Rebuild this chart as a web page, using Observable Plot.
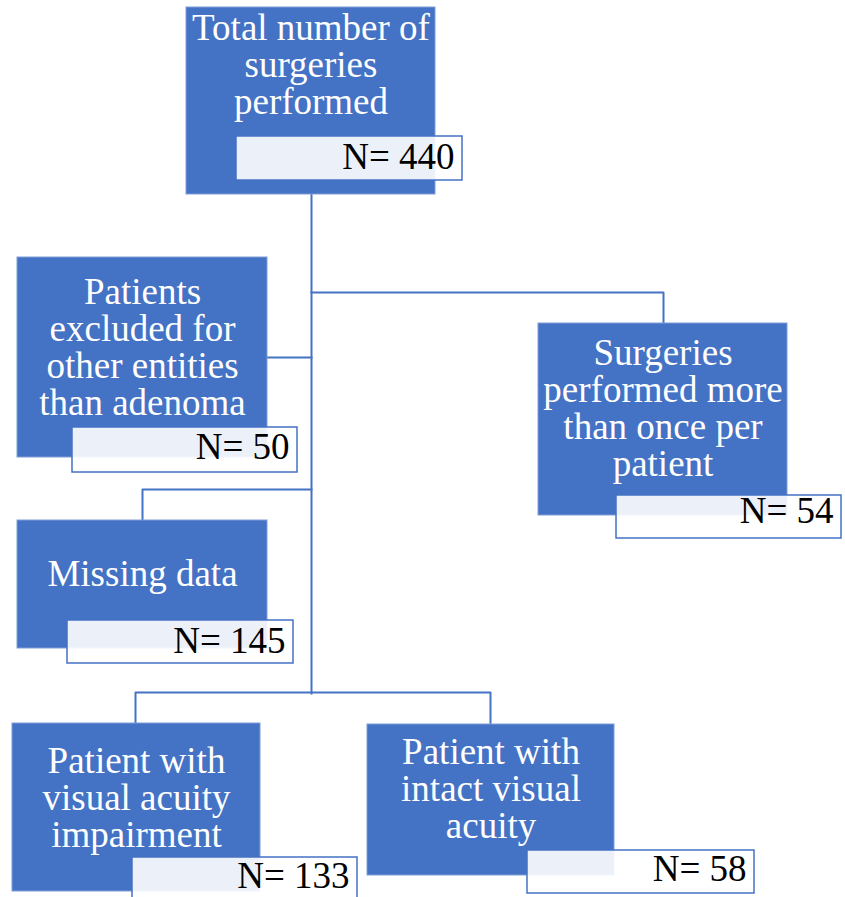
<!DOCTYPE html>
<html>
<head>
<meta charset="utf-8">
<script src="https://cdn.jsdelivr.net/npm/d3@7"></script>
<script src="https://cdn.jsdelivr.net/npm/@observablehq/plot@0.6"></script>
<style>
  html, body { margin: 0; padding: 0; background: #ffffff; }
  #chart svg { display: block; }
</style>
</head>
<body>
<div id="chart"></div>
<script>
// ---- Data (flow stages and counts) ----
const stages = [
  "Total number of\nsurgeries\nperformed",
  "Patients\nexcluded for\nother entities\nthan adenoma",
  "Surgeries\nperformed more\nthan once per\npatient",
  "Missing data",
  "Patient with\nvisual acuity\nimpairment",
  "Patient with\nintact visual\nacuity"
];
const counts = [440, 50, 54, 145, 133, 58];

// ---- Layout of the flow diagram (pixel grid of the page) ----
const boxX1 = [186, 17, 538, 17, 12, 367];
const boxX2 = [435, 267, 787, 267, 260, 614];
const boxY1 = [7, 257, 323, 520, 723, 724];
const boxY2 = [194, 457, 515, 648, 891, 875];
const labelY = [64.5, 347, 408.5, 573.5, 797.5, 788.5];
const nX1 = [236, 72, 616, 67, 132, 527];
const nX2 = [462, 297, 841, 293, 357, 754];
const nY1 = [136, 427, 495, 620, 857, 850];
const nY2 = [180, 472, 538, 663, 905, 893];
const nTextY = [156.5, 446.5, 510.5, 640.5, 875.5, 868.5];

// connectors: [pathId, x, y]
const connectors = [
  ["trunk", 311, 194], ["trunk", 311, 693],
  ["toRepeat", 311, 292], ["toRepeat", 663, 292], ["toRepeat", 663, 323],
  ["toExcluded", 311, 357], ["toExcluded", 267, 357],
  ["toMissing", 311, 489], ["toMissing", 142, 489], ["toMissing", 142, 520],
  ["toSplit", 135, 723], ["toSplit", 135, 692], ["toSplit", 490, 692], ["toSplit", 490, 724]
];

const nodes = stages.map((label, i) => ({
  label,
  count: "N= " + counts[i],
  bx1: boxX1[i], bx2: boxX2[i], by1: boxY1[i], by2: boxY2[i],
  cx: (boxX1[i] + boxX2[i]) / 2, ty: labelY[i],
  nx1: nX1[i], nx2: nX2[i], ny1: nY1[i], ny2: nY2[i], nty: nTextY[i]
}));
const links = connectors.map(([id, x, y]) => ({id, x, y}));

const blue = "#4472c4";
const font = "'Liberation Serif', 'Times New Roman', Times, serif";

const chart = Plot.plot({
  width: 845,
  height: 897,
  marginTop: 0, marginRight: 0, marginBottom: 0, marginLeft: 0,
  x: {domain: [0, 845], axis: null},
  y: {domain: [0, 897], reverse: true, axis: null},
  style: {fontFamily: font, background: "#ffffff"},
  marks: [
    Plot.line(links, {x: "x", y: "y", z: "id", stroke: blue, strokeWidth: 2, strokeLinecap: "square"}),
    Plot.rect(nodes, {x1: "bx1", x2: "bx2", y1: "by1", y2: "by2", fill: blue, stroke: "#7f9dd8", strokeWidth: 1}),
    Plot.text(nodes, {x: "cx", y: "ty", text: "label", fill: "#ffffff", fontSize: 37,
      lineHeight: 1, textAnchor: "middle", lineAnchor: "middle"}),
    Plot.rect(nodes, {x1: "nx1", x2: "nx2", y1: "ny1", y2: "ny2", fill: "#ffffff", fillOpacity: 0.9,
      stroke: blue, strokeWidth: 1.5}),
    Plot.text(nodes, {x: "nx2", y: "nty", text: "count", fill: "#000000", fontSize: 37,
      textAnchor: "end", dx: -8})
  ]
});

document.getElementById("chart").appendChild(chart);
</script>
</body>
</html>
